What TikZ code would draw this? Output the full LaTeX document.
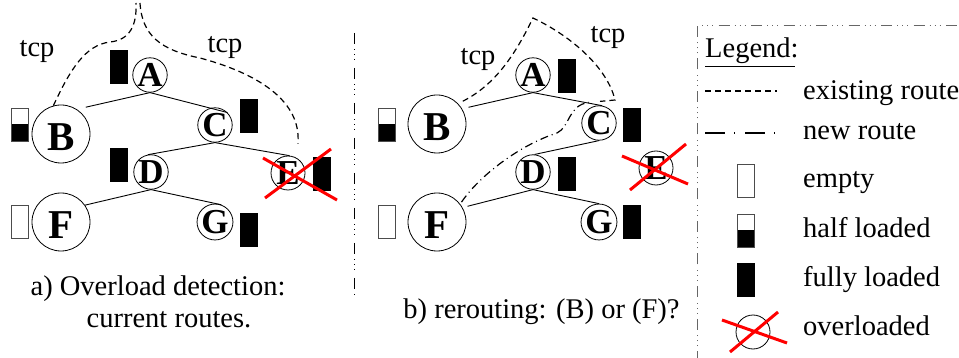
\documentclass[tikz,border=0pt]{standalone}
\usepackage{fontspec}
\setmainfont{Liberation Serif}
\begin{document}
\begin{tikzpicture}[x=1pt,y=-1pt,
  smallnode/.style={circle, draw, line width=0.8pt, minimum size=34pt, inner sep=0pt, text height=23.5pt, text depth=0pt, font=\fontsize{35}{35}\selectfont\bfseries},
  bignode/.style={circle, draw, line width=0.8pt, minimum size=58pt, inner sep=0pt, text height=34pt, text depth=0pt, font=\fontsize{41}{41}\selectfont\bfseries},
  barfull/.style={draw, fill=black, minimum width=17pt, minimum height=33pt, inner sep=0pt, line width=0.5pt},
  barempty/.style={draw=black!70, minimum width=17pt, minimum height=33pt, inner sep=0pt, line width=0.8pt},
  barhalf/.style={barempty, path picture={\fill (path picture bounding box.south west) rectangle (path picture bounding box.east);}},
  edge/.style={line width=0.9pt},
  oldroute/.style={line width=1.2pt, dash pattern=on 6pt off 4pt},
  newroute/.style={line width=1.2pt, dash pattern=on 8pt off 4pt on 1pt off 4pt},
  redx/.style={red, line width=3pt},
  txt/.style={font=\fontsize{28.5}{34}\selectfont, inner sep=0pt},
  divider/.style={line width=1pt, dash pattern=on 11pt off 5pt on 1pt off 4pt on 1pt off 4pt on 1pt off 8pt},
  legendborder/.style={draw=black!60, line width=1pt, dash pattern=on 11pt off 5pt on 1pt off 4pt on 1pt off 4pt on 1pt off 5.5pt}
]
\useasboundingbox (0,0) rectangle (959,358);

% ---------------- panel a ----------------
\node[smallnode] (aA) at (150,75) {A};
\node[bignode]   (aB) at (61,134) {B};
\node[smallnode] (aC) at (215,125) {C};
\node[smallnode] (aD) at (151,172) {D};
\node[smallnode] (aE) at (288,173) {E};
\node[bignode]   (aF) at (61,222) {F};
\node[smallnode] (aG) at (215,222) {G};

\node[barfull]  (abA) at (118.5,67) {};
\node[barhalf]  (abB) at (20,124.5) {};
\node[barfull]  (abC) at (248.5,115.5) {};
\node[barfull]  (abD) at (118.5,165) {};
\node[barfull]  (abE) at (321.5,173.5) {};
\node[barempty] (abF) at (20,222) {};
\node[barfull]  (abG) at (248.5,230) {};

\draw[edge] (aA.south) -- ([shift={(4,-6)}]aB.45);
\draw[edge] (aA.south) -- (aC.north east);
\draw[edge] (aC.south) -- (aD.100);
\draw[edge] (aC.south) -- (aE.85);
\draw[edge] (aD.south) -- (aF.35);
\draw[edge] (aD.south) -- (aG.70);

\coordinate (apeakL) at (136,3);
\coordinate (apeakR) at (140,3);
\draw[oldroute] (aB.105) .. controls (70,70) and (85,45) .. (110,42)
  .. controls (130,40) and (137,25) .. (apeakL);
\draw[oldroute] (apeakR) .. controls (142,35) and (160,50) .. (200,58)
  .. controls (245,70) and (302,95) .. ([shift={(4,-13)}]aE.70);

\node[txt, anchor=base] (atcpL) at (37,57) {tcp};
\node[txt, anchor=base] (atcpR) at (225,53) {tcp};

\coordinate (ax1a) at (263,158);
\coordinate (ax1b) at (337,200);
\coordinate (ax2a) at (265,198);
\coordinate (ax2b) at (331,149);
\draw[redx] (ax1a) -- (ax1b);
\draw[redx] (ax2a) -- (ax2b);

\node[txt, anchor=base] (capa1) at (158,295) {a) Overload detection:};
\node[txt, anchor=base] (capa2) at (169,327) {current routes.};

% ---------------- divider ----------------
\coordinate (divtop) at (354,33);
\coordinate (divbot) at (354,295);
\draw[divider] (divtop) -- (divbot);

% ---------------- panel b ----------------
\node[smallnode] (bA) at (533,75) {A};
\node[bignode]   (bB) at (437,124) {B};
\node[smallnode] (bC) at (599,123) {C};
\node[smallnode] (bD) at (533,172) {D};
\node[smallnode] (bE) at (656,168) {E};
\node[bignode]   (bF) at (437,222) {F};
\node[smallnode] (bG) at (599,222) {G};

\node[barfull]  (bbA) at (566.5,75.5) {};
\node[barhalf]  (bbB) at (386.5,124.5) {};
\node[barfull]  (bbC) at (631.5,124.5) {};
\node[barfull]  (bbD) at (566.5,173.5) {};
\node[barempty] (bbF) at (386.5,222) {};
\node[barfull]  (bbG) at (631.5,222) {};

\draw[edge] (bA.south) -- ([shift={(6,-2)}]bB.30);
\draw[edge] (bA.south) -- (bC.80);
\draw[edge] (bC.south) -- (bD.85);
\draw[edge] (bD.south) -- ([shift={(5,-1)}]bF.30);
\draw[edge] (bD.south) -- (bG.north);

\coordinate (bpeak) at (533,18);
\coordinate (bcorner) at (615,100);
\draw[oldroute] ([shift={(5,-2)}]bB.45) .. controls (495,85) and (515,55) .. (bpeak)
  .. controls (575,38) and (608,70) .. (bcorner) -- ([shift={(1,-4)}]bC.north);
\draw[newroute] ([shift={(2,-1)}]bF.40) .. controls (480,175) and (520,145) .. (557,133)
  .. controls (570,127) and (568,105) .. ([shift={(-10,-3)}]bC.north);

\node[txt, anchor=base] (btcpL) at (478,65) {tcp};
\node[txt, anchor=base] (btcpR) at (608,43) {tcp};

\coordinate (bx1a) at (622,156);
\coordinate (bx1b) at (688,184);
\coordinate (bx2a) at (630,190);
\coordinate (bx2b) at (686,144);
\draw[redx] (bx1a) -- (bx1b);
\draw[redx] (bx2a) -- (bx2b);

\node[txt, anchor=base] (capb) at (541.5,318) {b) rerouting: (B) or (F)?};

% ---------------- legend ----------------
\coordinate (lgbot) at (697,362);
\coordinate (lgcorner) at (697,26);
\coordinate (lgright) at (965,26);
\draw[legendborder] (lgbot) -- (lgcorner) -- (lgright);

\node[txt, anchor=base west] (lgtitle) at (705,58) {Legend:};
\coordinate (ul1) at (705,67);
\coordinate (ul2) at (795,67);
\draw[line width=1pt] (ul1) -- (ul2);

\coordinate (ls1) at (705,91);
\coordinate (ls2) at (777,91);
\draw[line width=1.2pt, dash pattern=on 6pt off 4pt] (ls1) -- (ls2);
\node[txt, anchor=base west] (lt1) at (803,100) {existing route};

\coordinate (ld1) at (705,133);
\coordinate (ld2) at (777,133);
\draw[line width=1.2pt, dash pattern=on 20pt off 9pt on 1pt off 10pt] (ld1) -- (ld2);
\node[txt, anchor=base west] (lt2) at (803,140) {new route};

\node[barempty] (lb1) at (745.5,181) {};
\node[txt, anchor=base west] (lt3) at (803,188) {empty};
\node[barhalf] (lb2) at (745.5,230.5) {};
\node[txt, anchor=base west] (lt4) at (803,238) {half loaded};
\node[barfull] (lb3) at (745.5,279.5) {};
\node[txt, anchor=base west] (lt5) at (803,287) {fully loaded};

\node[circle, draw, line width=0.8pt, minimum size=34pt, inner sep=0pt] (lc) at (753,332) {};
\coordinate (lx1a) at (722,320);
\coordinate (lx1b) at (787,343);
\coordinate (lx2a) at (730,352);
\coordinate (lx2b) at (778,312);
\draw[redx] (lx1a) -- (lx1b);
\draw[redx] (lx2a) -- (lx2b);
\node[txt, anchor=base west] (lt6) at (803,335) {overloaded};
\end{tikzpicture}
\end{document}
